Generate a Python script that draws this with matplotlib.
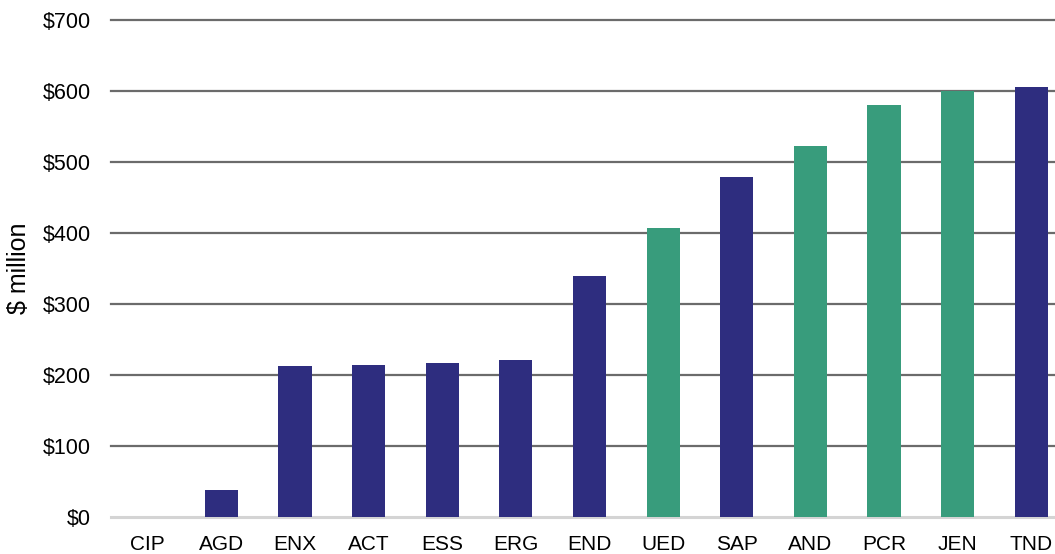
import matplotlib
matplotlib.use("Agg")
import matplotlib.pyplot as plt
from matplotlib.ticker import FuncFormatter

plt.rcParams['font.family'] = ['Liberation Sans', 'DejaVu Sans']

categories = ["CIP", "AGD", "ENX", "ACT", "ESS", "ERG", "END", "UED", "SAP", "AND", "PCR", "JEN", "TND"]
values = [0, 38, 213, 214, 217, 221, 339, 407, 479, 523, 580, 600, 606]
groups = ["a", "a", "a", "a", "a", "a", "a", "b", "a", "b", "b", "b", "a"]

NAVY = "#2e2d7f"
GREEN = "#389c7c"
colors = [NAVY if g == "a" else GREEN for g in groups]

fig = plt.figure(figsize=(10.55, 5.54), dpi=100)
ax = fig.add_axes([111 / 1055, 1 - 517 / 554, 957 / 1055, (517 - 20) / 554])

x = range(len(categories))
ax.bar(x, values, width=0.45, color=colors, zorder=3)

ax.set_ylim(0, 700)
ax.set_xlim(-0.5, len(categories) - 0.5)
ax.set_yticks(range(0, 701, 100))
ax.yaxis.set_major_formatter(FuncFormatter(lambda v, p: f"${int(v)}"))
ax.set_xticks(list(x))
ax.set_xticklabels(categories)

ax.grid(axis='y', color='#6b6b6b', linewidth=1.6, zorder=1)
for gl in ax.get_ygridlines():
    gl.set_clip_on(False)
ax.get_ygridlines()[0].set_visible(False)  # zero line is light grey instead
ax.axhline(0, color='#d4d4d4', linewidth=2.2, zorder=2, clip_on=False)
for s in ax.spines.values():
    s.set_visible(False)
ax.tick_params(axis='both', length=0, labelsize=15.5, colors='black')
ax.tick_params(axis='x', labelsize=15, pad=13)
ax.tick_params(axis='y', pad=14.5)
ax.set_ylabel("$ million", fontsize=18)
ax.yaxis.set_label_coords(-0.084, 0.5)

fig.savefig("out.png", dpi=100)
